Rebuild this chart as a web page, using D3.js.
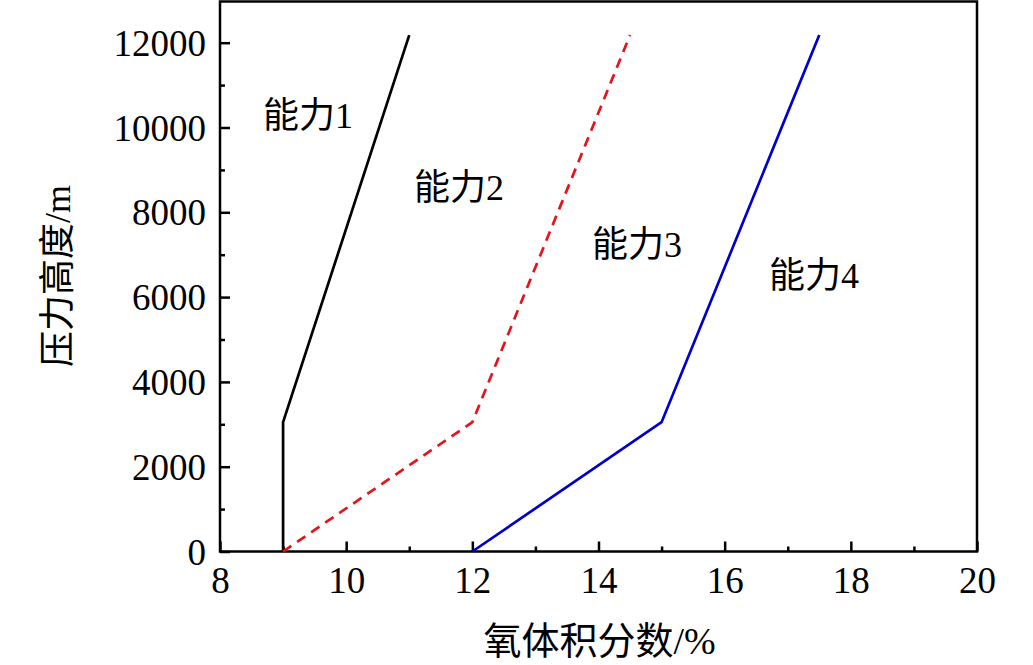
<!DOCTYPE html>
<html>
<head>
<meta charset="utf-8">
<script src="https://cdn.jsdelivr.net/npm/d3@7/dist/d3.min.js"></script>
<style>
  html, body { margin: 0; padding: 0; background: #fff; }
  svg text { font-family: "Liberation Serif", "Noto Sans CJK SC", serif; fill: #000; }
</style>
</head>
<body>
<svg id="chart" width="1033" height="665"></svg>
<script>
// ---- data ----
const xTicks = [8, 10, 12, 14, 16, 18, 20];
const yTicks = [0, 2000, 4000, 6000, 8000, 10000, 12000];
const seriesNames = ["能力1", "能力2", "能力3", "能力4"];
const cap1X = [9, 9, 11];
const cap1Y = [0, 3050, 12180];
const cap2X = [9, 12, 14.5];
const cap2Y = [0, 3050, 12180];
const cap3X = [12, 15, 17.5];
const cap3Y = [0, 3050, 12180];
const xTitle = "氧体积分数/%";
const yTitle = "压力高度/m";

// ---- layout ----
const svg = d3.select("#chart");
const L = 220, R = 977, T = 1.5, B = 551.5;
const x = d3.scaleLinear().domain([8, 20]).range([L, R]);
const y = d3.scaleLinear().domain([0, 13000]).range([B, 0.3]);

// frame
svg.append("rect").attr("x", L).attr("y", T).attr("width", R - L).attr("height", B - T)
  .attr("fill", "none").attr("stroke", "#000").attr("stroke-width", 2.5);

// minor ticks
const xMinor = d3.range(9, 20, 2);
const yMinor = d3.range(1000, 13000, 2000);
svg.append("g").attr("transform", `translate(0,${B})`)
  .call(d3.axisBottom(x).tickValues(xMinor).tickSize(-5).tickFormat(""))
  .call(g => g.select(".domain").remove())
  .call(g => g.selectAll("line").attr("stroke-width", 2.5));
svg.append("g").attr("transform", `translate(${L},0)`)
  .call(d3.axisLeft(y).tickValues(yMinor).tickSize(-5).tickFormat(""))
  .call(g => g.select(".domain").remove())
  .call(g => g.selectAll("line").attr("stroke-width", 2.5));

// major axes
const xAxis = svg.append("g").attr("transform", `translate(0,${B})`)
  .call(d3.axisBottom(x).tickValues(xTicks).tickSizeInner(-10).tickSizeOuter(0).tickPadding(0).tickFormat(d3.format("d")));
xAxis.select(".domain").remove();
xAxis.selectAll("line").attr("stroke-width", 2.5);
xAxis.selectAll("text").attr("font-size", 37).attr("y", 41).attr("dy", 0)
  .style("font-family", '"Liberation Serif", serif');

const yAxis = svg.append("g").attr("transform", `translate(${L},0)`)
  .call(d3.axisLeft(y).tickValues(yTicks).tickSizeInner(-10).tickSizeOuter(0).tickPadding(0).tickFormat(d3.format("d")));
yAxis.select(".domain").remove();
yAxis.selectAll("line").attr("stroke-width", 2.5);
yAxis.selectAll("text").attr("font-size", 37).attr("x", -14).attr("dy", "0.34em")
  .style("font-family", '"Liberation Serif", serif');

// lines
const line = d3.line().x(d => x(d[0])).y(d => y(d[1]));
const series = [
  { xs: cap1X, ys: cap1Y, color: "#000000", dash: null },
  { xs: cap2X, ys: cap2Y, color: "#e3141c", dash: "10,7" },
  { xs: cap3X, ys: cap3Y, color: "#0000cc", dash: null }
];
series.forEach(s => {
  svg.append("path")
    .datum(s.xs.map((v, i) => [v, s.ys[i]]))
    .attr("d", line)
    .attr("fill", "none")
    .attr("stroke", s.color)
    .attr("stroke-width", 2.7)
    .attr("stroke-dasharray", s.dash);
});

// labels
const labelPos = [[263, 128], [414, 200], [592, 257], [769, 288]];
seriesNames.forEach((n, i) => {
  svg.append("text").attr("x", labelPos[i][0]).attr("y", labelPos[i][1])
    .attr("font-size", 36).text(n);
});

// axis titles
svg.append("text").attr("x", (L + R) / 2 + 1).attr("y", 654)
  .attr("text-anchor", "middle").attr("font-size", 38).text(xTitle);
svg.append("text").attr("transform", "translate(70,276) rotate(-90)")
  .attr("text-anchor", "middle").attr("font-size", 36).text(yTitle);
</script>
</body>
</html>
